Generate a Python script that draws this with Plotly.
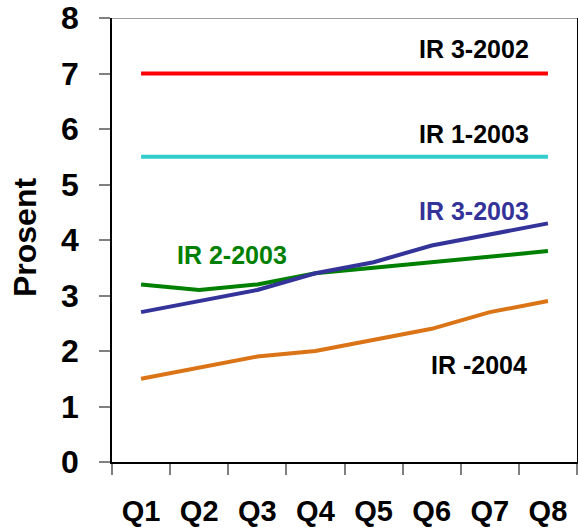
import plotly.graph_objects as go

quarters = ["Q1", "Q2", "Q3", "Q4", "Q5", "Q6", "Q7", "Q8"]
ir_3_2002 = [7.0, 7.0, 7.0, 7.0, 7.0, 7.0, 7.0, 7.0]
ir_1_2003 = [5.5, 5.5, 5.5, 5.5, 5.5, 5.5, 5.5, 5.5]
ir_3_2003 = [2.7, 2.9, 3.1, 3.4, 3.6, 3.9, 4.1, 4.3]
ir_2_2003 = [3.2, 3.1, 3.2, 3.4, 3.5, 3.6, 3.7, 3.8]
ir_2004 = [1.5, 1.7, 1.9, 2.0, 2.2, 2.4, 2.7, 2.9]
y_ticks = [0, 1, 2, 3, 4, 5, 6, 7, 8]

FONT = "Liberation Sans, Arial, sans-serif"

series = [
    ("IR -2004", ir_2004, "#DA7417"),
    ("IR 2-2003", ir_2_2003, "#008000"),
    ("IR 3-2003", ir_3_2003, "#333399"),
    ("IR 1-2003", ir_1_2003, "#33CCCC"),
    ("IR 3-2002", ir_3_2002, "#FF0000"),
]

fig = go.Figure()
for name, vals, col in series:
    fig.add_trace(go.Scatter(x=quarters, y=vals, mode="lines", name=name,
                             line=dict(color=col, width=4), showlegend=False))

labels = [
    ("IR 3-2002", 5.73, 7.44, "#000000"),
    ("IR 1-2003", 5.73, 5.91, "#000000"),
    ("IR 3-2003", 5.73, 4.52, "#333399"),
    ("IR 2-2003", 1.56, 3.73, "#008000"),
    ("IR -2004", 5.81, 1.75, "#000000"),
]
for txt, xi, yi, col in labels:
    fig.add_annotation(x=xi, y=yi, xref="x", yref="y", text=txt, showarrow=False,
                       xanchor="center", yanchor="middle",
                       font=dict(family=FONT, size=25, color=col, weight="bold"))

fig.add_annotation(x=-0.187, y=0.5045, xref="paper", yref="paper", text="Prosent",
                   textangle=-90, showarrow=False, xanchor="center", yanchor="middle",
                   font=dict(family=FONT, size=32, color="#000000", weight="bold"))

fig.add_shape(type="line", xref="paper", yref="y", x0=0, x1=1, y0=8, y1=8,
              line=dict(color="#808080", width=1.5))

fig.update_layout(
    width=578, height=528,
    margin=dict(l=112, r=1, t=18, b=66, autoexpand=False),
    paper_bgcolor="white", plot_bgcolor="white",
    xaxis=dict(type="category", range=[-0.5, 7.5], tickson="boundaries",
               ticks="outside", ticklen=11, tickwidth=1.5, tickcolor="#808080",
               showline=True, linecolor="#000000", linewidth=1.5,
               showgrid=False, zeroline=False, ticklabelstandoff=22, automargin=False,
               tickfont=dict(family=FONT, size=29, color="#000000", weight="bold")),
    yaxis=dict(range=[0, 8], tickvals=y_ticks, ticks="outside", ticklen=11,
               tickwidth=1.5, tickcolor="#808080",
               showline=True, linecolor="#000000", linewidth=1.5, mirror=True,
               showgrid=False, zeroline=False, ticklabelstandoff=14, automargin=False,
               tickfont=dict(family=FONT, size=32, color="#000000", weight="bold")),
)

fig.write_html("out.html", config={"displayModeBar": False},
               post_script="document.body.style.margin='0';document.body.style.padding='0';document.body.style.overflow='hidden';")
